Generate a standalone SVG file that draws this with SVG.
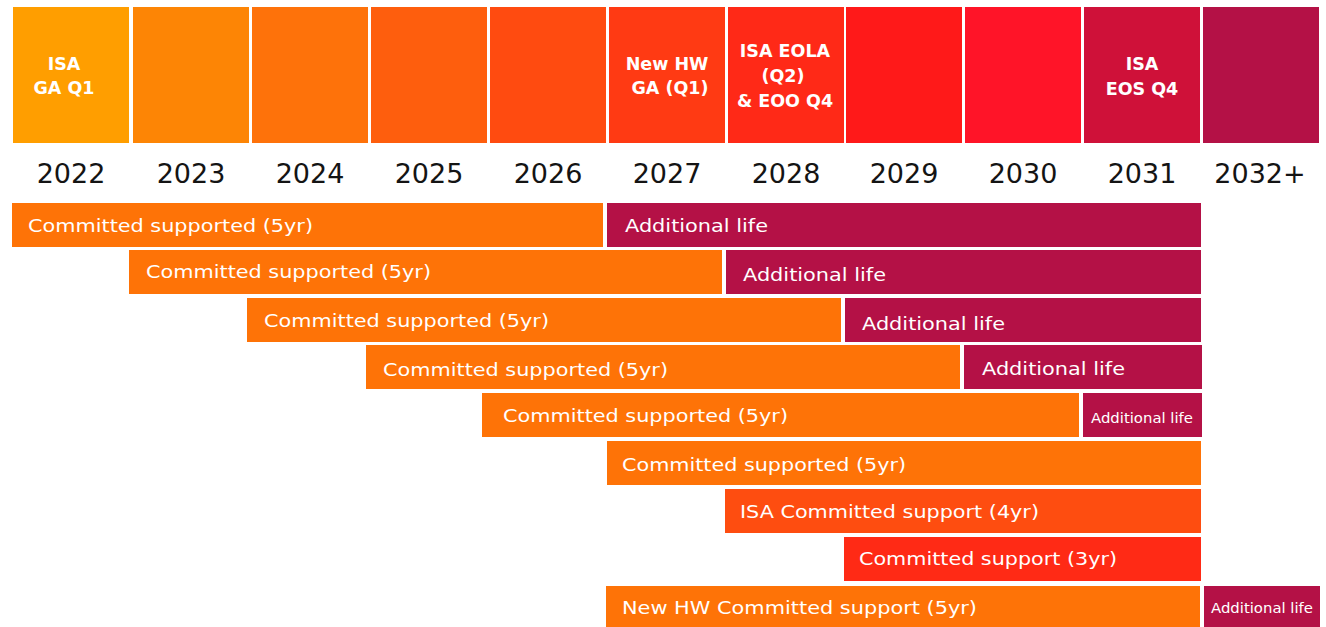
<svg xmlns="http://www.w3.org/2000/svg" width="1326" height="627" viewBox="0 0 1326 627">
  <style>
    .yr { font-family: "DejaVu Sans", "Liberation Sans", sans-serif; font-size: 27px; fill: #141414; text-anchor: middle; }
    .top { font-family: "DejaVu Sans", "Liberation Sans", sans-serif; font-size: 17.5px; font-weight: bold; fill: #ffffff; text-anchor: middle; }
    .lbl { font-family: "DejaVu Sans", "Liberation Sans", sans-serif; font-size: 18px; fill: #ffffff; }
    .sm { font-family: "DejaVu Sans", "Liberation Sans", sans-serif; font-size: 13.5px; fill: #ffffff; }
    .or { fill: #fe7307; }
    .pu { fill: #b41146; }
  </style>
  <rect width="1326" height="627" fill="#ffffff"/>

  <g id="years">
    <g id="y2022"><rect x="13" y="7" width="116" height="136" fill="#ff9e00"/>
      <text class="top" x="64" y="70">ISA</text><text class="top" x="64" y="94">GA Q1</text>
      <text class="yr" x="71" y="183">2022</text></g>
    <g id="y2023"><rect x="133" y="7" width="116" height="136" fill="#fd8505"/>
      <text class="yr" x="191" y="183">2023</text></g>
    <g id="y2024"><rect x="252" y="7" width="116" height="136" fill="#fe720a"/>
      <text class="yr" x="310" y="183">2024</text></g>
    <g id="y2025"><rect x="371" y="7" width="116" height="136" fill="#fe5e0d"/>
      <text class="yr" x="429" y="183">2025</text></g>
    <g id="y2026"><rect x="490" y="7" width="116" height="136" fill="#ff4b10"/>
      <text class="yr" x="548" y="183">2026</text></g>
    <g id="y2027"><rect x="609" y="7" width="116" height="136" fill="#ff3a13"/>
      <text class="top" x="667" y="70">New HW</text><text class="top" x="670" y="94">GA (Q1)</text>
      <text class="yr" x="667" y="183">2027</text></g>
    <g id="y2028"><rect x="728" y="7" width="116" height="136" fill="#ff2917"/>
      <text class="top" x="785" y="57">ISA EOLA</text><text class="top" x="783" y="82">(Q2)</text><text class="top" x="785" y="107">&amp; EOO Q4</text>
      <text class="yr" x="786" y="183">2028</text></g>
    <g id="y2029"><rect x="846" y="7" width="116" height="136" fill="#ff1919"/>
      <text class="yr" x="904" y="183">2029</text></g>
    <g id="y2030"><rect x="965" y="7" width="116" height="136" fill="#ff1428"/>
      <text class="yr" x="1023" y="183">2030</text></g>
    <g id="y2031"><rect x="1084" y="7" width="116" height="136" fill="#cf1139"/>
      <text class="top" x="1142" y="70">ISA</text><text class="top" x="1142" y="95">EOS Q4</text>
      <text class="yr" x="1142" y="183">2031</text></g>
    <g id="y2032"><rect x="1203" y="7" width="116" height="136" fill="#b41146"/>
      <text class="yr" x="1260" y="183">2032+</text></g>
  </g>

  <g id="bars">
    <g id="row1">
      <rect class="or" x="12" y="203" width="591" height="44"/>
      <text class="lbl" x="28" y="232" textLength="285" lengthAdjust="spacingAndGlyphs">Committed supported (5yr)</text>
      <rect class="pu" x="607" y="203" width="594" height="44"/>
      <text class="lbl" x="625" y="232" textLength="143" lengthAdjust="spacingAndGlyphs">Additional life</text>
    </g>
    <g id="row2">
      <rect class="or" x="129" y="250" width="593" height="44"/>
      <text class="lbl" x="146" y="278" textLength="285" lengthAdjust="spacingAndGlyphs">Committed supported (5yr)</text>
      <rect class="pu" x="726" y="250" width="475" height="44"/>
      <text class="lbl" x="743" y="281" textLength="143" lengthAdjust="spacingAndGlyphs">Additional life</text>
    </g>
    <g id="row3">
      <rect class="or" x="247" y="298" width="594" height="44"/>
      <text class="lbl" x="264" y="327" textLength="285" lengthAdjust="spacingAndGlyphs">Committed supported (5yr)</text>
      <rect class="pu" x="845" y="298" width="356" height="44"/>
      <text class="lbl" x="862" y="330" textLength="143" lengthAdjust="spacingAndGlyphs">Additional life</text>
    </g>
    <g id="row4">
      <rect class="or" x="366" y="345" width="594" height="44"/>
      <text class="lbl" x="383" y="376" textLength="285" lengthAdjust="spacingAndGlyphs">Committed supported (5yr)</text>
      <rect class="pu" x="964" y="345" width="238" height="44"/>
      <text class="lbl" x="982" y="375" textLength="143" lengthAdjust="spacingAndGlyphs">Additional life</text>
    </g>
    <g id="row5">
      <rect class="or" x="482" y="393" width="597" height="44"/>
      <text class="lbl" x="503" y="422" textLength="285" lengthAdjust="spacingAndGlyphs">Committed supported (5yr)</text>
      <rect class="pu" x="1083" y="393" width="119" height="44"/>
      <text class="sm" x="1091" y="423" textLength="102" lengthAdjust="spacingAndGlyphs">Additional life</text>
    </g>
    <g id="row6">
      <rect class="or" x="607" y="441" width="594" height="44"/>
      <text class="lbl" x="622" y="471" textLength="284" lengthAdjust="spacingAndGlyphs">Committed supported (5yr)</text>
    </g>
    <g id="row7">
      <rect x="725" y="489" width="476" height="44" fill="#fe4d10"/>
      <text class="lbl" x="740" y="518" textLength="299" lengthAdjust="spacingAndGlyphs">ISA Committed support (4yr)</text>
    </g>
    <g id="row8">
      <rect x="844" y="537" width="357" height="44" fill="#ff2a15"/>
      <text class="lbl" x="859" y="565" textLength="258" lengthAdjust="spacingAndGlyphs">Committed support (3yr)</text>
    </g>
    <g id="row9">
      <rect class="or" x="606" y="586" width="594" height="44"/>
      <text class="lbl" x="622" y="614" textLength="355" lengthAdjust="spacingAndGlyphs">New HW Committed support (5yr)</text>
      <rect class="pu" x="1204" y="586" width="116" height="44"/>
      <text class="sm" x="1211" y="613" textLength="102" lengthAdjust="spacingAndGlyphs">Additional life</text>
    </g>
  </g>
</svg>
